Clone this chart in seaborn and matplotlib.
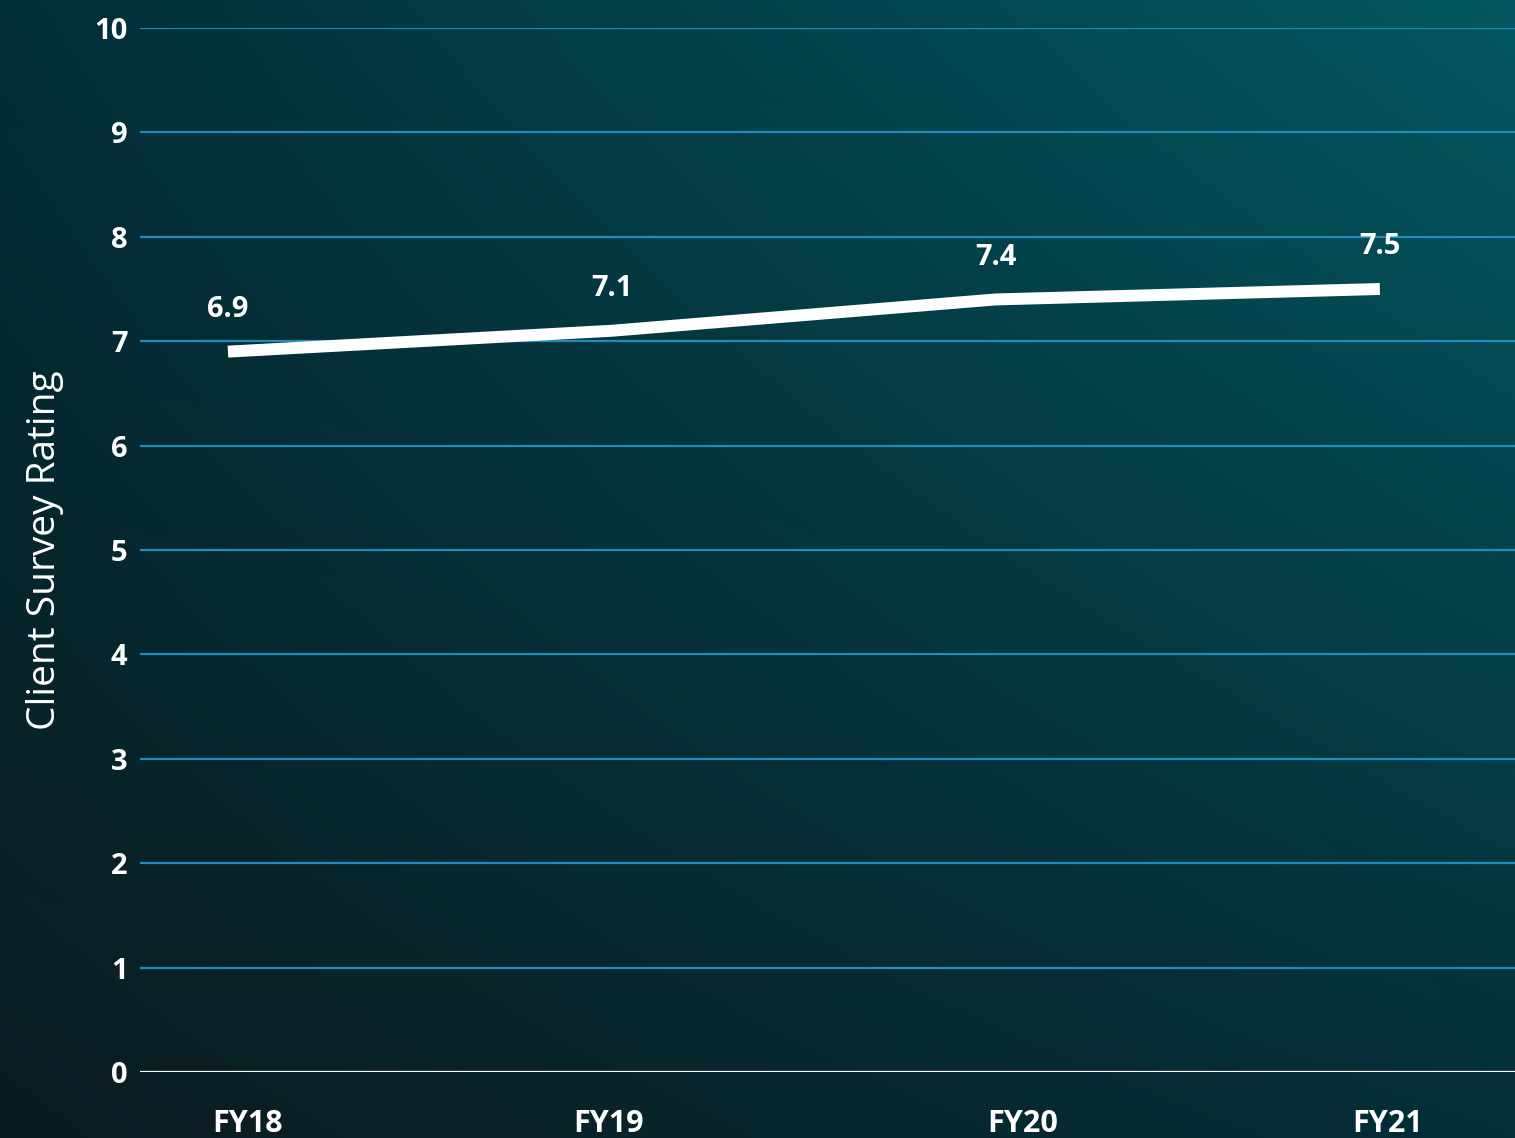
import numpy as np
import pandas as pd
import matplotlib.pyplot as plt
import seaborn as sns

# data
years = ["FY18", "FY19", "FY20", "FY21"]
ratings = [6.9, 7.1, 7.4, 7.5]
yticks = list(range(0, 11))

df = pd.DataFrame({"pos": np.arange(len(years)), "rating": ratings})

sns.set_theme(style="white")
plt.rcParams["font.family"] = ["Open Sans", "DejaVu Sans"]

fig = plt.figure(figsize=(15.15, 11.38), dpi=100)

# background gradient (dark bottom-left -> teal top-right)
bg = fig.add_axes([0, 0, 1, 1], zorder=-10)
h, w = 200, 260
yy, xx = np.mgrid[0:1:h * 1j, 0:1:w * 1j]
tl = np.array([0x02, 0x2e, 0x38]) / 255
tr = np.array([0x03, 0x57, 0x60]) / 255
bl = np.array([0x0b, 0x1c, 0x20]) / 255
br = np.array([0x05, 0x2e, 0x38]) / 255
img = (tl[None, None] * ((1 - yy) * (1 - xx))[..., None]
       + tr[None, None] * ((1 - yy) * xx)[..., None]
       + bl[None, None] * (yy * (1 - xx))[..., None]
       + br[None, None] * (yy * xx)[..., None])
bg.imshow(img, aspect="auto", extent=[0, 1, 0, 1], interpolation="bicubic")
bg.axis("off")

ax = fig.add_axes([0.0924, 0.058, 0.9076, 0.9174])
ax.patch.set_alpha(0)

for t in yticks[1:]:
    ax.axhline(t, color="#1f8cbf", lw=1.6, zorder=1)
ax.axhline(0, color="white", lw=1.6, zorder=1)

sns.lineplot(data=df, x="pos", y="rating", ax=ax, color="white", lw=8.6,
             zorder=3, solid_capstyle="butt")

for x, v in zip(df["pos"], ratings):
    ax.annotate(f"{v}", (x, v), xytext=(0, 20), textcoords="offset points",
                ha="center", va="bottom", color="white", fontsize=21,
                fontweight="bold")

ax.set_xlim(-0.229, 3.352)
ax.set_ylim(0, 10)
ax.set_yticks(yticks)
ax.set_yticklabels([str(t) for t in yticks], color="white", fontsize=21,
                   fontweight="bold")
ax.set_xticks(df["pos"] + np.array([0.05, -0.01, 0.07, 0.02]))
ax.set_xticklabels(years, color="white", fontsize=22, fontweight="bold")
ax.tick_params(axis="y", length=0, pad=9)
ax.tick_params(axis="x", length=0, pad=27)
ax.set_xlabel("")
ax.set_ylabel("Client Survey Rating", color="white", fontsize=28, labelpad=22)
ax.grid(False)
sns.despine(ax=ax, left=True, bottom=True)

fig.savefig("out.png", dpi=100)
